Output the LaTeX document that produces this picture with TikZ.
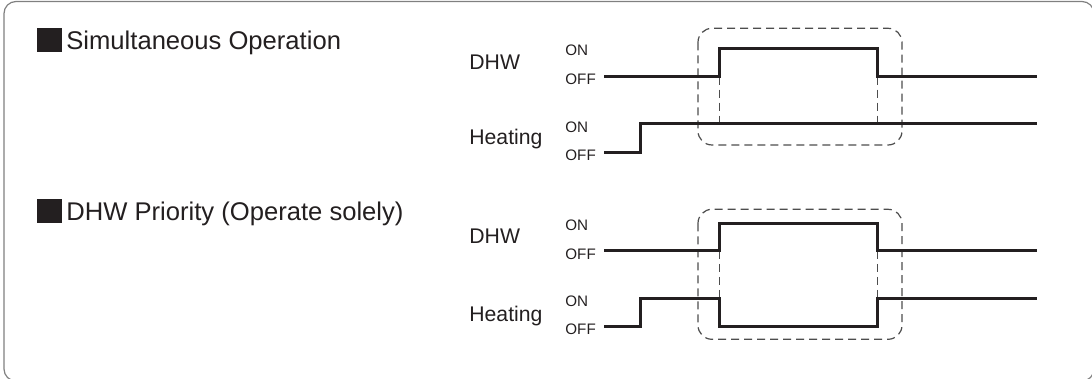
\documentclass[tikz,border=0pt]{standalone}
\usepackage{fontspec}
\setmainfont{Liberation Sans}
\usetikzlibrary{positioning}
\definecolor{ink}{HTML}{231F20}
\definecolor{rim}{HTML}{808080}
\definecolor{dashgray}{HTML}{4D4D4D}

\begin{document}
\begin{tikzpicture}[
  x=0.5pt,y=-0.5pt,
  heading/.style={anchor=base west,inner sep=0pt,font=\fontsize{12.8}{15}\selectfont,text=ink},
  bullet/.style={fill=ink,minimum width=12.6pt,minimum height=11.6pt,inner sep=0pt},
  signame/.style={anchor=base west,inner sep=0pt,font=\fontsize{10.6}{13}\selectfont,text=ink},
  level/.style={anchor=base west,inner sep=0pt,font=\fontsize{7.6}{9}\selectfont,text=ink},
  wave/.style={line width=1.5pt,ink,line join=miter},
  window/.style={dash pattern=on 4pt off 2.5pt,line width=0.6pt,dashgray,rounded corners=7pt},
  edgemark/.style={dash pattern=on 4pt off 2.5pt,line width=0.5pt,dashgray}
]
  \useasboundingbox (0,0) rectangle (1092,379);
  \begin{scope}
    \clip (0,0) rectangle (1092,379);
    \draw[rim,line width=0.6pt,rounded corners=6pt] (4,1.5) rectangle (1094,381);
  \end{scope}

  % titles
  \node[bullet] (simmark) at (49.5,40) {};
  \node[heading] (simtitle) at (66,50) {Simultaneous Operation};
  \node[bullet] (primark) at (49.5,211) {};
  \node[heading] (prititle) at (66,221) {DHW Priority (Operate solely)};

  % signal names and levels
  \node[signame] (simdhw) at (469,70) {DHW};
  \node[level] (simdhwon) at (565,56) {ON};
  \node[level] (simdhwoff) at (565,85) {OFF};
  \node[signame] (simheat) at (469,145) {Heating};
  \node[level] (simheaton) at (565,132.7) {ON};
  \node[level] (simheatoff) at (565,161) {OFF};

  \node[signame] (pridhw) at (469,244) {DHW};
  \node[level] (pridhwon) at (565,230.7) {ON};
  \node[level] (pridhwoff) at (565,259.3) {OFF};
  \node[signame] (priheat) at (469,321.7) {Heating};
  \node[level] (priheaton) at (565,306.7) {ON};
  \node[level] (priheatoff) at (565,335) {OFF};

  % dashed windows
  \draw[window] (698,28.3) rectangle (902,145);
  \draw[window] (698,209.3) rectangle (902,339.3);
  \draw[edgemark] (719.3,76.7) -- (719.3,124);
  \draw[edgemark] (877.7,76.7) -- (877.7,124);
  \draw[edgemark] (719.3,251) -- (719.3,299);
  \draw[edgemark] (877.7,251) -- (877.7,299);

  % waveforms
  \draw[wave] (604,76.7) -- (719.3,76.7) -- (719.3,48.3) -- (877.7,48.3)
    -- (877.7,76.7) -- (1037,76.7);
  \draw[wave] (604,152.7) -- (640.7,152.7) -- (640.7,124) -- (1037,124);
  \draw[wave] (604,251) -- (719.3,251) -- (719.3,223.3) -- (877.7,223.3)
    -- (877.7,251) -- (1037,251);
  \draw[wave] (604,326.7) -- (640.7,326.7) -- (640.7,299) -- (719.3,299)
    -- (719.3,326.7) -- (877.7,326.7) -- (877.7,299) -- (1037,299);
\end{tikzpicture}
\end{document}
